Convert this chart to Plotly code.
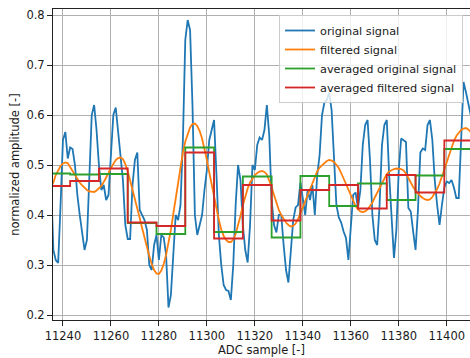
import plotly.graph_objects as go

# ADC sample indices covered by the traces
first_sample = 11235
last_sample = 11410
samples = list(range(first_sample, last_sample + 1))

# raw normalized amplitude, one value per ADC sample
original_signal = [
    0.47, 0.33, 0.31, 0.304, 0.42,
    0.55, 0.566, 0.513, 0.535, 0.532,
    0.50, 0.44, 0.40, 0.36, 0.33,
    0.35, 0.47, 0.60, 0.62, 0.57,
    0.50, 0.45, 0.46, 0.43, 0.44,
    0.53, 0.60, 0.615, 0.57, 0.52,
    0.47, 0.38, 0.352, 0.352, 0.46,
    0.51, 0.525, 0.41, 0.40, 0.39,
    0.37, 0.30, 0.29, 0.34, 0.36,
    0.31, 0.36, 0.355, 0.32, 0.215,
    0.24, 0.33, 0.40, 0.39, 0.42,
    0.55, 0.75, 0.79, 0.77, 0.62,
    0.40, 0.36, 0.38, 0.40, 0.45,
    0.49, 0.55, 0.57, 0.59, 0.48,
    0.36, 0.30, 0.26, 0.25, 0.248,
    0.23, 0.30, 0.42, 0.50, 0.47,
    0.38, 0.33, 0.305, 0.38, 0.50,
    0.49, 0.54, 0.555, 0.55, 0.57,
    0.62, 0.56, 0.43, 0.38, 0.365,
    0.40, 0.40, 0.34, 0.29, 0.265,
    0.33, 0.39, 0.415, 0.42, 0.465,
    0.43, 0.40, 0.45, 0.43, 0.46,
    0.40, 0.48, 0.52, 0.60, 0.625,
    0.63, 0.645, 0.61, 0.50, 0.42,
    0.395, 0.385, 0.367, 0.354, 0.31,
    0.38, 0.44, 0.445, 0.414, 0.45,
    0.54, 0.58, 0.59, 0.51, 0.40,
    0.35, 0.34, 0.42, 0.54, 0.58,
    0.59, 0.48, 0.39, 0.314, 0.37,
    0.49, 0.553, 0.55, 0.546, 0.414,
    0.407, 0.367, 0.33, 0.41, 0.525,
    0.533, 0.53, 0.58, 0.59, 0.55,
    0.47, 0.42, 0.38, 0.42, 0.455,
    0.467, 0.464, 0.47, 0.455, 0.434,
    0.434, 0.55, 0.666, 0.646, 0.62,
    0.60,
]

# low-pass filtered amplitude, one value per ADC sample
filtered_signal = [
    0.455, 0.465, 0.48, 0.49, 0.498,
    0.503, 0.505, 0.504, 0.497, 0.488,
    0.48, 0.472, 0.465, 0.459, 0.454,
    0.45, 0.447, 0.446, 0.446, 0.449,
    0.453, 0.458, 0.466, 0.474, 0.484,
    0.494, 0.503, 0.51, 0.514, 0.515,
    0.512, 0.502, 0.488, 0.47, 0.45,
    0.433, 0.413, 0.394, 0.374, 0.354,
    0.335, 0.318, 0.302, 0.29, 0.283,
    0.282, 0.289, 0.302, 0.32, 0.344,
    0.37, 0.402, 0.435, 0.468, 0.498,
    0.525, 0.547, 0.563, 0.575, 0.582,
    0.583, 0.578, 0.568, 0.553, 0.533,
    0.51, 0.485, 0.46, 0.435, 0.412,
    0.39, 0.371, 0.358, 0.35, 0.346,
    0.346, 0.351, 0.362, 0.378, 0.398,
    0.419, 0.437, 0.453, 0.465, 0.474,
    0.48, 0.484, 0.487, 0.488, 0.486,
    0.481, 0.47, 0.456, 0.44, 0.424,
    0.41, 0.40, 0.392, 0.385, 0.38,
    0.377, 0.378, 0.383, 0.392, 0.404,
    0.416, 0.428, 0.44, 0.452, 0.465,
    0.477, 0.487, 0.495, 0.50, 0.504,
    0.508, 0.51, 0.509, 0.506, 0.501,
    0.494, 0.484, 0.473, 0.462, 0.45,
    0.438, 0.427, 0.418, 0.411, 0.407,
    0.406, 0.407, 0.411, 0.417, 0.425,
    0.435, 0.445, 0.455, 0.465, 0.474,
    0.482, 0.487, 0.49, 0.492, 0.493,
    0.493, 0.492, 0.489, 0.483, 0.474,
    0.464, 0.456, 0.449, 0.443, 0.438,
    0.434, 0.431, 0.43, 0.431, 0.436,
    0.443, 0.452, 0.463, 0.476, 0.49,
    0.505, 0.52, 0.535, 0.548, 0.558,
    0.565, 0.57, 0.573, 0.574, 0.571,
    0.566,
]

# 12-sample averaging windows: first sample of each window
window_starts = [11231, 11243, 11255, 11267, 11279, 11291, 11303, 11315,
                 11327, 11339, 11351, 11363, 11375, 11387, 11399, 11411]
averaged_original = [0.483, 0.481, 0.482, 0.384, 0.362, 0.535, 0.366, 0.477,
                     0.355, 0.478, 0.418, 0.463, 0.43, 0.479, 0.532]
averaged_filtered = [0.458, 0.468, 0.493, 0.385, 0.378, 0.525, 0.353, 0.46,
                     0.389, 0.45, 0.46, 0.413, 0.48, 0.445, 0.549]

x_ticks = [11240, 11260, 11280, 11300, 11320, 11340, 11360, 11380, 11400]
y_ticks = [0.2, 0.3, 0.4, 0.5, 0.6, 0.7, 0.8]

FONT = "DejaVu Sans"
LW = 1.8

fig = go.Figure()
fig.add_trace(go.Scatter(x=samples, y=original_signal, mode="lines",
                         name="original signal",
                         line=dict(color="#1f77b4", width=LW)))
fig.add_trace(go.Scatter(x=samples, y=filtered_signal, mode="lines",
                         name="filtered signal",
                         line=dict(color="#ff7f0e", width=LW)))
fig.add_trace(go.Scatter(x=window_starts,
                         y=averaged_original + averaged_original[-1:],
                         mode="lines", line_shape="hv",
                         name="averaged original signal",
                         line=dict(color="#2ca02c", width=LW)))
fig.add_trace(go.Scatter(x=window_starts,
                         y=averaged_filtered + averaged_filtered[-1:],
                         mode="lines", line_shape="hv",
                         name="averaged filtered signal",
                         line=dict(color="#d62728", width=LW)))

axis_common = dict(
    showgrid=True, gridcolor="#b0b0b0", gridwidth=1,
    showline=True, linecolor="#222", linewidth=1, mirror=True,
    ticks="outside", ticklen=5, tickwidth=1, tickcolor="#222",
    tickfont=dict(family=FONT, size=11.5, color="#1a1a1a"),
    zeroline=False,
)

fig.update_layout(
    width=470, height=358,
    margin=dict(l=53, r=0, t=9, b=38),
    paper_bgcolor="white", plot_bgcolor="white",
    font=dict(family=FONT, size=11.5, color="#1a1a1a"),
    showlegend=True,
    legend=dict(
        x=1 - 7 / 417, xanchor="right", y=1 - 6 / 311, yanchor="top",
        bgcolor="rgba(255,255,255,0.8)", bordercolor="#cccccc", borderwidth=1,
        font=dict(family=FONT, size=11.3, color="#1a1a1a"),
        itemwidth=30, tracegroupgap=0,
    ),
    xaxis=dict(
        axis_common,
        range=[11235.85, 11409.7],
        tickvals=x_ticks,
        ticktext=[str(v) for v in x_ticks],
        title=dict(text="ADC sample [-]", standoff=4,
                   font=dict(family=FONT, size=11.5, color="#1a1a1a")),
    ),
    yaxis=dict(
        axis_common,
        range=[0.19, 0.812],
        tickvals=y_ticks,
        ticktext=[f"{v:.1f}" for v in y_ticks],
        title=dict(text="normalized amplitude [-]", standoff=4,
                   font=dict(family=FONT, size=11.5, color="#1a1a1a")),
    ),
)

fig.write_html("out.html")
